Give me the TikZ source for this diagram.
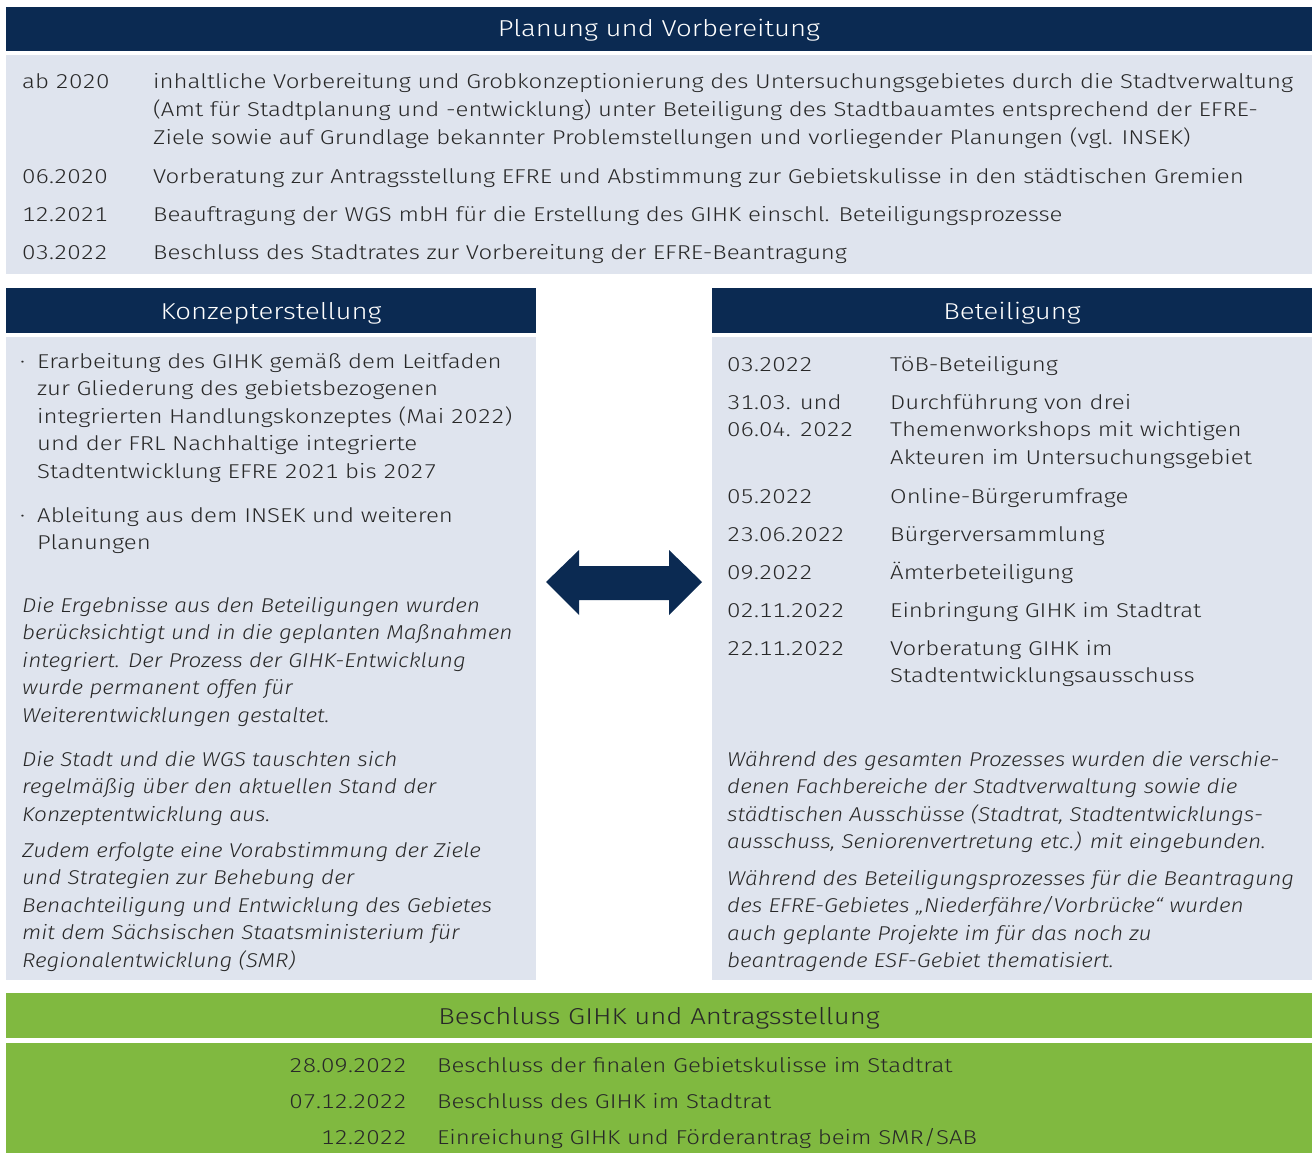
\documentclass[tikz,border=0pt]{standalone}
\usepackage{fontspec}
\setmainfont{Fira Sans}[UprightFont=* Light, ItalicFont=* Light Italic,
    UprightFeatures={FakeStretch=1.2}, ItalicFeatures={FakeStretch=1.13},
    Numbers=Monospaced]
\usetikzlibrary{positioning}

\definecolor{dunkelblau}{RGB}{11,42,82}
\definecolor{hellblau}{RGB}{223,228,238}
\definecolor{gruen}{RGB}{128,185,64}
\definecolor{schrift}{RGB}{40,40,40}

\begin{document}
\begin{tikzpicture}[x=1pt,y=-1pt,
    kopf/.style={anchor=base, font=\fontsize{23}{28}\selectfont, inner sep=0pt},
    datum/.style={anchor=base west, align=left, text=schrift, inner sep=0pt, font=\fontsize{20}{27.5}\selectfont},
    eintrag/.style={datum},
    kursiv/.style={datum, font=\fontsize{20}{27.5}\selectfont\itshape}]
    \useasboundingbox (0,0) rectangle (1316,1153);
    % boxes
    \fill[dunkelblau] (6,7) rectangle (1312,51);
    \fill[hellblau] (6,55) rectangle (1312,274);
    \fill[dunkelblau] (6,288) rectangle (536,333);
    \fill[hellblau] (6,337) rectangle (536,980);
    \fill[dunkelblau] (712,288) rectangle (1312,333);
    \fill[hellblau] (712,337) rectangle (1312,980);
    \fill[gruen] (6,993) rectangle (1312,1038);
    \fill[gruen] (6,1043) rectangle (1312,1153);
    % double arrow
    \fill[dunkelblau] (546,582) -- (579,550) -- (579,566) -- (669,566) -- (669,550)
        -- (702,582) -- (669,615) -- (669,600) -- (579,600) -- (579,615) -- cycle;

    % Planung und Vorbereitung (multi-line nodes sit on their last baseline)
    \node[kopf, text=white] (planKopf) at (659,37) {Planung und Vorbereitung};
    \node[datum] (plan1) at (22,89) {ab 2020};
    \node[eintrag] (planText1) at (153,144) {inhaltliche Vorbereitung und Grobkonzeptionierung des Untersuchungsgebietes durch die Stadtverwaltung\\(Amt für Stadtplanung und -entwicklung) unter Beteiligung des Stadtbauamtes entsprechend der EFRE-\\Ziele sowie auf Grundlage bekannter Problemstellungen und vorliegender Planungen (vgl. INSEK)};
    \node[datum] (plan2) at (22,183) {06.2020};
    \node[eintrag] (planText2) at (153,183) {Vorberatung zur Antragsstellung EFRE und Abstimmung zur Gebietskulisse in den städtischen Gremien};
    \node[datum] (plan3) at (22,221) {12.2021};
    \node[eintrag] (planText3) at (153,221) {Beauftragung der WGS mbH für die Erstellung des GIHK einschl. Beteiligungsprozesse};
    \node[datum] (plan4) at (22,259) {03.2022};
    \node[eintrag] (planText4) at (153,259) {Beschluss des Stadtrates zur Vorbereitung der EFRE-Beantragung};

    % Konzepterstellung
    \node[kopf, text=white] (konzKopf) at (271,319) {Konzepterstellung};
    \node[datum] (konzPunkt1) at (20,368) {·};
    \node[eintrag] (konzText1) at (37,478) {Erarbeitung des GIHK gemäß dem Leitfaden\\zur Gliederung des gebietsbezogenen\\integrierten Handlungskonzeptes (Mai 2022)\\und der FRL Nachhaltige integrierte\\Stadtentwicklung EFRE 2021 bis 2027};
    \node[datum] (konzPunkt2) at (20,522) {·};
    \node[eintrag] (konzText2) at (37,549.5) {Ableitung aus dem INSEK und weiteren\\Planungen};
    \node[kursiv] (konzNotiz1) at (22,722) {Die Ergebnisse aus den Beteiligungen wurden\\berücksichtigt und in die geplanten Maßnahmen\\integriert. Der Prozess der GIHK-Entwicklung\\wurde permanent offen für\\Weiterentwicklungen gestaltet.};
    \node[kursiv] (konzNotiz2) at (22,821) {Die Stadt und die WGS tauschten sich\\regelmäßig über den aktuellen Stand der\\Konzeptentwicklung aus.};
    \node[kursiv] (konzNotiz3) at (22,967) {Zudem erfolgte eine Vorabstimmung der Ziele\\und Strategien zur Behebung der\\Benachteiligung und Entwicklung des Gebietes\\mit dem Sächsischen Staatsministerium für\\Regionalentwicklung (SMR)};

    % Beteiligung
    \node[kopf, text=white] (betKopf) at (1012,319) {Beteiligung};
    \node[datum] (bet1) at (727,371) {03.2022};
    \node[eintrag] (betText1) at (890,371) {TöB-Beteiligung};
    \node[datum] (bet2) at (727,436.5) {31.03. und\\06.04. 2022};
    \node[eintrag] (betText2) at (890,464) {Durchführung von drei\\Themenworkshops mit wichtigen\\Akteuren im Untersuchungsgebiet};
    \node[datum] (bet3) at (727,503) {05.2022};
    \node[eintrag] (betText3) at (890,503) {Online-Bürgerumfrage};
    \node[datum] (bet4) at (727,541) {23.06.2022};
    \node[eintrag] (betText4) at (890,541) {Bürgerversammlung};
    \node[datum] (bet5) at (727,579) {09.2022};
    \node[eintrag] (betText5) at (890,579) {Ämterbeteiligung};
    \node[datum] (bet6) at (727,617) {02.11.2022};
    \node[eintrag] (betText6) at (890,617) {Einbringung GIHK im Stadtrat};
    \node[datum] (bet7) at (727,655) {22.11.2022};
    \node[eintrag] (betText7) at (890,682.5) {Vorberatung GIHK im\\Stadtentwicklungsausschuss};
    \node[kursiv] (betNotiz1) at (727,848.5) {Während des gesamten Prozesses wurden die verschie-\\denen Fachbereiche der Stadtverwaltung sowie die\\städtischen Ausschüsse (Stadtrat, Stadtentwicklungs-\\ausschuss, Seniorenvertretung etc.) mit eingebunden.};
    \node[kursiv] (betNotiz2) at (727,967.5) {Während des Beteiligungsprozesses für die Beantragung\\des EFRE-Gebietes „Niederfähre/Vorbrücke“ wurden\\auch geplante Projekte im für das noch zu\\beantragende ESF-Gebiet thematisiert.};

    % Beschluss GIHK und Antragsstellung
    \node[kopf, text=schrift] (beschKopf) at (659,1024) {Beschluss GIHK und Antragsstellung};
    \node[datum, anchor=base east] (besch1) at (407,1072) {28.09.2022};
    \node[eintrag] (beschText1) at (437,1072) {Beschluss der finalen Gebietskulisse im Stadtrat};
    \node[datum, anchor=base east] (besch2) at (407,1108) {07.12.2022};
    \node[eintrag] (beschText2) at (437,1108) {Beschluss des GIHK im Stadtrat};
    \node[datum, anchor=base east] (besch3) at (407,1144) {12.2022};
    \node[eintrag] (beschText3) at (437,1144) {Einreichung GIHK und Förderantrag beim SMR/SAB};
\end{tikzpicture}
\end{document}
